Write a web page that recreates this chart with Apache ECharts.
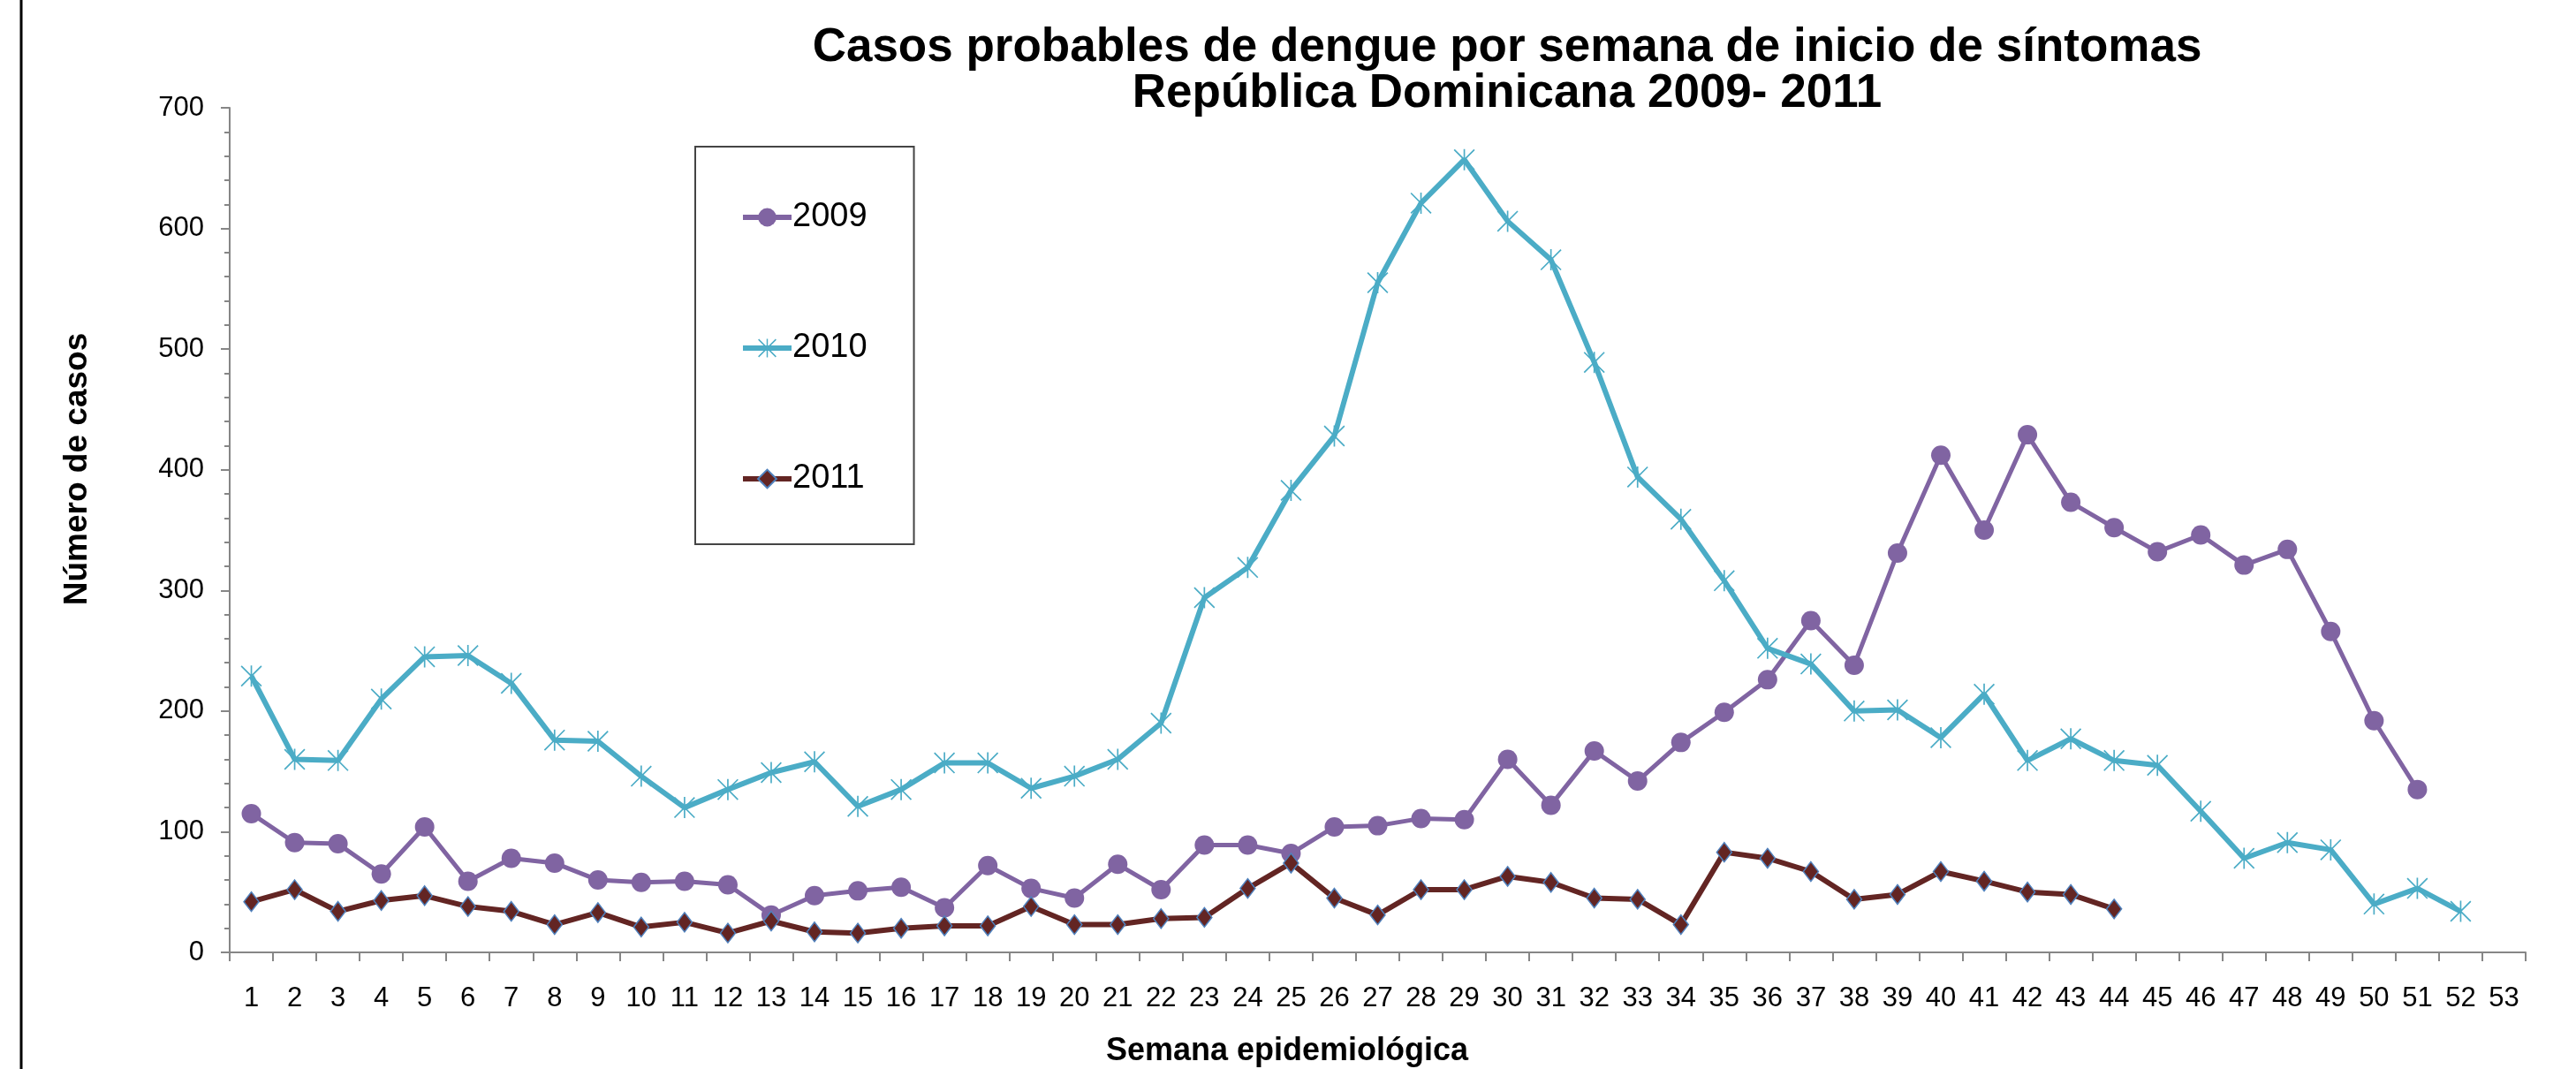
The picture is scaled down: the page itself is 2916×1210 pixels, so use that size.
<!DOCTYPE html>
<html>
<head>
<meta charset="utf-8">
<title>Casos probables de dengue</title>
<script src="https://cdn.jsdelivr.net/npm/echarts@6/dist/echarts.min.js"></script>
<style>
  html, body { margin: 0; padding: 0; background: #fff; }
  #chart { width: 2916px; height: 1210px; }
</style>
</head>
<body>
<div id="chart"></div>
<script>
const weeks = [];
for (let i = 1; i <= 53; i++) weeks.push(String(i));

const yTicks = [0, 100, 200, 300, 400, 500, 600, 700];

const cases2009 = [115, 91, 90, 65, 104, 59, 78, 74, 60, 58, 59, 56, 31, 47, 51, 54, 37, 72, 53,
  45, 73, 52, 89, 89, 82, 104, 105, 111, 110, 160, 122, 167, 142, 174, 199, 226, 275, 238, 331,
  412, 350, 429, 373, 352, 332, 346, 321, 334, 266, 192, 135];

const cases2010 = [229, 160, 159, 210, 245, 246, 223, 176, 175, 146, 120, 135, 149, 158, 121, 135,
  157, 157, 136, 146, 160, 190, 294, 319, 383, 428, 555, 621, 657, 606, 574, 489, 394, 359, 308,
  252, 239, 200, 201, 178, 214, 159, 177, 159, 155, 117, 78, 91, 85, 40, 53, 34];

const cases2011 = [42, 52, 34, 43, 47, 38, 34, 23, 33, 21, 25, 16, 26, 17, 16, 20, 22, 22, 38,
  23, 23, 28, 29, 53, 74, 45, 31, 52, 52, 63, 58, 45, 44, 23, 83, 78, 67, 44, 48, 67, 59, 50, 48, 36];

// asterisk marker like the Excel "star"
const starPath = 'path://M9.3,0H10.7V20H9.3Z M0,1L1,0L20,19L19,20Z M19,0L20,1L1,20L0,19Z';

const font = '"Liberation Sans", Arial, sans-serif';

const chart = echarts.init(document.getElementById('chart'));

const option = {
  animation: false,
  backgroundColor: '#fff',
  textStyle: { fontFamily: font, color: '#000' },
  grid: { left: 260, right: 57, top: 122, bottom: 132 },
  graphic: [
    {
      type: 'line',
      shape: { x1: 24, y1: 0, x2: 24, y2: 1210 },
      style: { stroke: '#000', lineWidth: 3 }
    },
    {
      type: 'text',
      x: 1706,
      y: 28,
      style: {
        text: 'Casos probables de dengue por semana de inicio de síntomas\nRepública Dominicana 2009- 2011',
        font: 'bold 53px ' + font,
        fill: '#000',
        textAlign: 'center',
        lineHeight: 52
      }
    },
    {
      type: 'text',
      x: 88,
      y: 531,
      rotation: Math.PI / 2,
      style: {
        text: 'Número de casos',
        font: 'bold 37px ' + font,
        fill: '#000',
        textAlign: 'center',
        textVerticalAlign: 'middle'
      }
    },
    {
      type: 'text',
      x: 1457,
      y: 1190,
      style: {
        text: 'Semana epidemiológica',
        font: 'bold 36px ' + font,
        fill: '#000',
        textAlign: 'center',
        textVerticalAlign: 'middle'
      }
    }
  ],
  legend: {
    orient: 'vertical',
    left: 787,
    top: 166,
    padding: [61, 53, 55, 51],
    itemGap: 110,
    itemWidth: 55,
    itemHeight: 26,
    borderColor: '#444',
    borderWidth: 2,
    lineStyle: { width: 6 },
    textStyle: { fontSize: 38, fontFamily: font, color: '#000', padding: [0, 0, 0, -4] },
    data: ['2009', '2010', '2011']
  },
  xAxis: {
    type: 'category',
    data: weeks,
    boundaryGap: true,
    axisLine: { lineStyle: { color: '#868686', width: 2 } },
    axisTick: { show: true, length: 10, inside: false, lineStyle: { color: '#868686', width: 2 } },
    axisLabel: { fontSize: 31, color: '#000', margin: 37, interval: 0 },
    splitLine: { show: false }
  },
  yAxis: {
    type: 'value',
    min: yTicks[0],
    max: yTicks[yTicks.length - 1],
    interval: 100,
    axisLine: { show: true, lineStyle: { color: '#868686', width: 2 } },
    axisTick: { show: true, length: 10, lineStyle: { color: '#868686', width: 2 } },
    minorTick: { show: true, splitNumber: 5, length: 6, lineStyle: { color: '#868686', width: 2 } },
    axisLabel: { fontSize: 31, color: '#000', margin: 29 },
    splitLine: { show: false }
  },
  series: [
    {
      name: '2009',
      type: 'line',
      data: cases2009,
      symbol: 'circle',
      symbolSize: 22,
      showAllSymbol: true,
      lineStyle: { color: '#8064A2', width: 5 },
      itemStyle: { color: '#8064A2' }
    },
    {
      name: '2010',
      type: 'line',
      data: cases2010,
      symbol: starPath,
      symbolSize: 24,
      showAllSymbol: true,
      lineStyle: { color: '#4BACC6', width: 6 },
      itemStyle: { color: '#4BACC6' }
    },
    {
      name: '2011',
      type: 'line',
      data: cases2011,
      symbol: 'diamond',
      symbolSize: [17, 22],
      showAllSymbol: true,
      lineStyle: { color: '#632523', width: 6 },
      itemStyle: { color: '#632523', borderColor: '#4F81BD', borderWidth: 1.5 }
    }
  ]
};

chart.setOption(option);
</script>
</body>
</html>
